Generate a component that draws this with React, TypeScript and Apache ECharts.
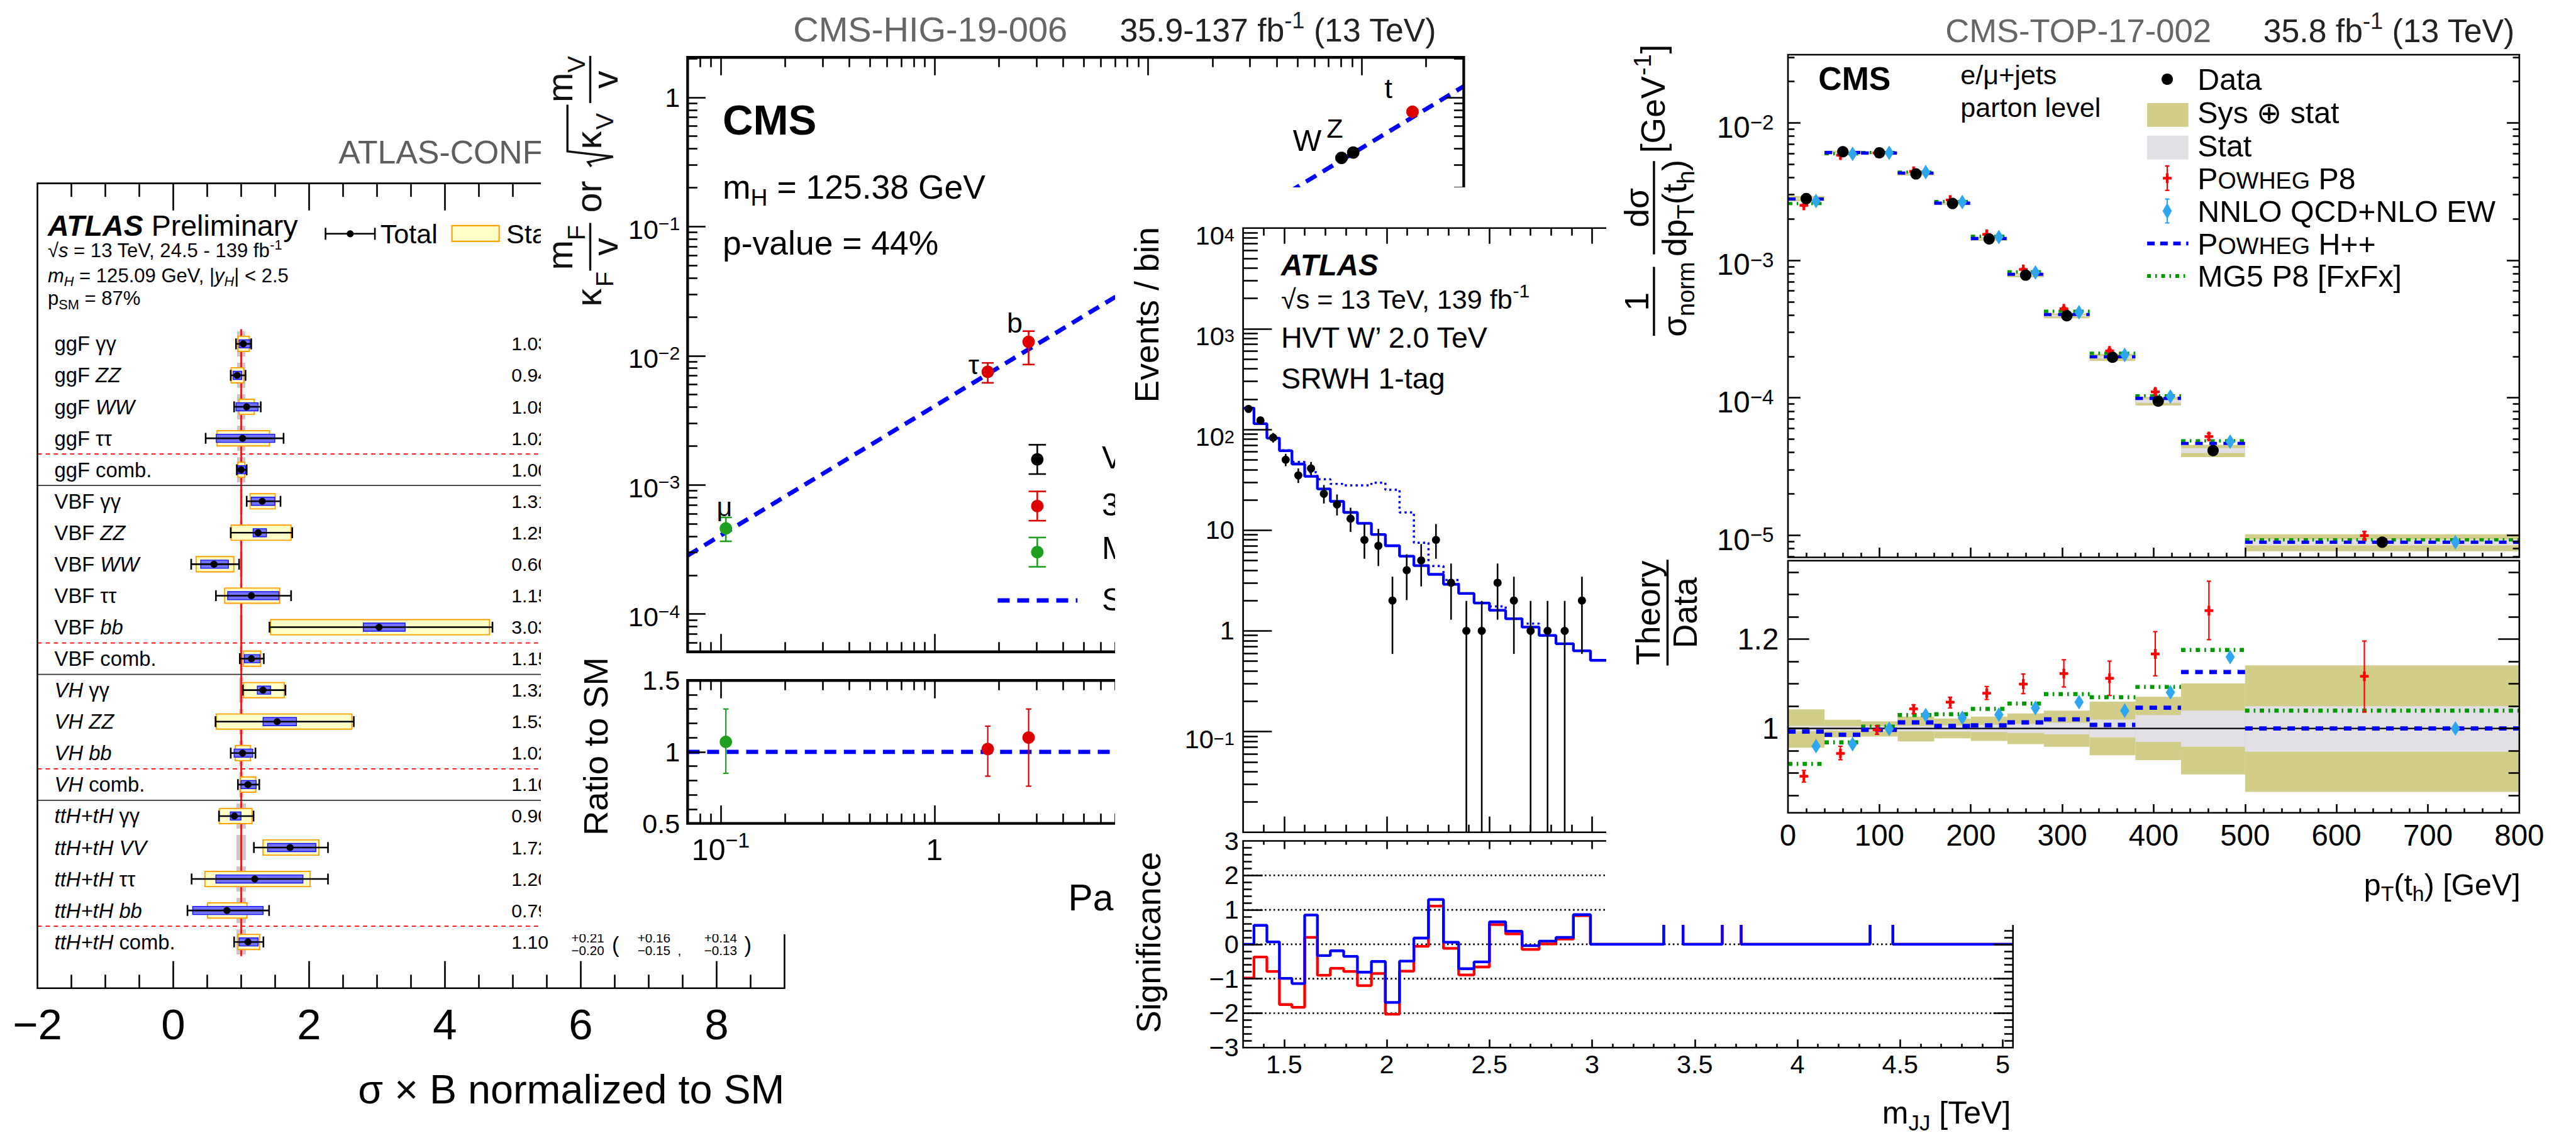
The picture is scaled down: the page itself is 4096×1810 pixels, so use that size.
import React, { useEffect, useRef } from 'react';
import * as echarts from 'echarts';

const S = 4096 / 4748;
const P = (v: number) => v * S;
const FONT = "'Liberation Sans', Arial, Helvetica, sans-serif";
const TW = 3;

// ================= DATA =================
// Panel A: ATLAS  sigma x B normalized to SM
const atlasRows = ['ggF γγ', 'ggF ZZ', 'ggF WW', 'ggF ττ', 'ggF comb.', 'VBF γγ', 'VBF ZZ', 'VBF WW', 'VBF ττ', 'VBF bb', 'VBF comb.', 'VH γγ', 'VH ZZ', 'VH bb', 'VH comb.', 'ttH+tH γγ', 'ttH+tH VV', 'ttH+tH ττ', 'ttH+tH bb', 'ttH+tH comb.'];
const atlasItalic = ['ZZ', 'WW', 'bb', 'VH', 'ttH+tH', 'VV'];
const atlasMu = [1.03, 0.94, 1.08, 1.02, 1.00, 1.31, 1.25, 0.60, 1.15, 3.03, 1.15, 1.32, 1.53, 1.02, 1.10, 0.90, 1.72, 1.20, 0.79, 1.10];
const atlasTotLo = [0.924, 0.846, 0.896, 0.477, 0.935, 1.081, 0.846, 0.264, 0.628, 1.417, 0.980, 1.025, 0.622, 0.846, 0.952, 0.673, 1.187, 0.270, 0.209, 0.896];
const atlasTotHi = [1.148, 1.064, 1.288, 1.624, 1.081, 1.579, 1.752, 0.969, 1.735, 4.700, 1.333, 1.652, 2.658, 1.210, 1.266, 1.182, 2.278, 2.278, 1.411, 1.327];
const atlasStatLo = [0.952, 0.852, 0.969, 0.645, 0.952, 1.131, 0.852, 0.337, 0.757, 1.433, 1.036, 1.036, 0.633, 0.913, 0.991, 0.678, 1.322, 0.466, 0.505, 0.952];
const atlasStatHi = [1.120, 1.036, 1.193, 1.417, 1.053, 1.501, 1.735, 0.891, 1.568, 4.656, 1.288, 1.635, 2.630, 1.137, 1.215, 1.159, 2.144, 2.015, 1.086, 1.271];
const atlasSystLo = [0.969, 0.880, 0.924, 0.633, 0.952, 1.148, 1.176, 0.404, 0.801, 2.798, 1.047, 1.238, 1.322, 0.896, 0.997, 0.840, 1.389, 0.628, 0.287, 0.969];
const atlasSystHi = [1.131, 1.008, 1.249, 1.495, 1.064, 1.495, 1.372, 0.812, 1.556, 3.414, 1.277, 1.433, 1.814, 1.170, 1.221, 0.997, 2.099, 1.909, 1.322, 1.249];
const atlasSmUnc = [0.06, 0.06, 0.06, 0.06, 0.06, 0.02, 0.02, 0.02, 0.02, 0.02, 0.02, 0.03, 0.03, 0.03, 0.03, 0.07, 0.07, 0.07, 0.07, 0.07];
const atlasSmLine = [-0.47, 19.45];
const atlasDashedSeps = [3.5, 9.5, 13.5, 18.5];
const atlasSolidSeps = [4.5, 10.5, 14.5];
const atlasXTicks = [-2, 0, 2, 4, 6, 8];
const atlasCombErrs = ['+0.21', '−0.20', '+0.16', '−0.15', '+0.14', '−0.13'];

// Panel B: CMS-HIG-19-006 couplings vs particle mass
const higParticles = ['μ', 'τ', 'b', 'W', 'Z', 't'];
const higGroup = ['muon', 'fermion3', 'fermion3', 'vector', 'vector', 'fermion3'];
const higMass = [0.1057, 1.777, 2.76, 80.38, 91.19, 172.76];
const higCoupling = [4.6e-4, 7.5e-3, 1.28e-2, 0.34, 0.374, 0.774];
const higCouplingLo = [3.66e-4, 6.17e-3, 8.55e-3, 0.33, 0.365, 0.755];
const higCouplingHi = [5.6e-4, 8.8e-3, 1.55e-2, 0.35, 0.383, 0.795];
const higRatio = [1.07, 1.02, 1.10, 1.02, 1.01, 1.10];
const higRatioLo = [0.85, 0.83, 0.76, 0.96, 0.96, 0.98];
const higRatioHi = [1.30, 1.18, 1.30, 1.09, 1.07, 1.22];
const higSMLine = [[0.07, 2.843e-4], [300, 1.218]];
const higSMRatio = [[0.07, 1], [300, 1]];
const higLegend = ['Vector bosons', '3rd generation fermions', 'Muons', 'SM Higgs boson'];

// Panel C: ATLAS HVT W' search, m_JJ
const mjjEdges = [1.300, 1.353, 1.416, 1.477, 1.538, 1.600, 1.662, 1.725, 1.790, 1.857, 1.925, 1.993, 2.062, 2.132, 2.203, 2.276, 2.350, 2.425, 2.500, 2.579, 2.659, 2.742, 2.824, 2.909, 2.992, 3.078, 3.166, 3.256, 3.349, 3.443, 3.538, 3.634, 3.726, 3.826, 3.926, 4.030, 4.135, 4.244, 4.354, 4.465, 4.580, 4.698, 4.818, 4.940, 5.050];
const mjjBkgHead = [163, 114, 82, 61.5, 45.4, 34.2, 25.7, 19.3, 15.0, 11.7, 9.06, 7.0, 5.52, 4.44, 3.64, 2.90, 2.35, 1.89, 1.60, 1.32, 1.09, 0.90, 0.745, 0.634];
const mjjSigBkgHead = [163, 114, 82, 62, 47.6, 37.6, 32, 28.8, 27.8, 27.8, 29.6, 25.2, 15, 7.5, 4.4, 3.2, 2.35, 1.89, 1.75, 1.32, 1.18, 0.90, 0.745, 0.634];
const mjjBkgTail = [0.51, 0.43, 0.36, 0.30, 0.25, 0.21, 0.18, 0.15, 0.13, 0.11, 0.09, 0.075, 0.063, 0.053, 0.045, 0.038, 0.032, 0.027, 0.023, 0.02];
const mjjData = [160, 123, 83, 50, 35, 41, 23, 18, 13, 8, 7, 2, 4, 5, 8, 3, 1, 1, 3, 2, 1, 1, 1, 2];
const mjjDataLo = [147.8, 112.4, 74.1, 43.2, 29.4, 35.0, 18.4, 14.0, 9.6, 5.2, 4.4, 0.59, 2.02, 2.76, 5.2, 1.29, 0.01, 0.01, 1.29, 0.59, 0.01, 0.01, 0.01, 0.59];
const mjjDataHi = [172.7, 134.0, 92.3, 57.3, 41.0, 47.6, 28.1, 22.6, 16.7, 11.5, 10.3, 3.45, 5.75, 7.27, 11.5, 4.66, 1.98, 1.98, 4.66, 3.45, 1.98, 1.98, 1.98, 3.45];
const mjjSigBlue = [0, 0.55, 0.07, -0.99, -1.14, 0.85, -0.33, -0.19, -0.35, -0.81, -0.50, -1.69, -0.49, 0.18, 1.30, 0.06, -0.71, -0.51, 0.65, 0.38, -0.04, 0.09, 0.20, 0.86, 0, 0, 0, 0, 99, 0, 0, 99, 0, 0, 0, 0, 0, 0, 99, 0, 0, 0, 0, 0];
const mjjSigRed = [-0.98, -0.37, -0.79, -1.75, -1.83, 0.20, -0.90, -0.70, -0.79, -1.20, -0.85, -2.03, -0.78, -0.06, 1.11, -0.12, -0.89, -0.66, 0.57, 0.30, -0.15, 0.01, 0.15, 0.83, 0, 0, 0, 0, 99, 0, 0, 99, 0, 0, 0, 0, 0, 0, 99, 0, 0, 0, 0, 0];
const mjjSigRefLines = [-2, -1, 0, 1, 2];
const mjjXLabels = [1.5, 2, 2.5, 3, 3.5, 4, 4.5, 5];
const sigYLabels = [-3, -2, -1, 0, 1, 2, 3];

// Panel D: CMS-TOP-17-002 pT(t_h)
const ptEdges = [0, 40, 80, 120, 160, 200, 240, 280, 330, 380, 430, 500, 800];
const cmsData = [2.81e-3, 6.16e-3, 6.05e-3, 4.25e-3, 2.59e-3, 1.43e-3, 7.8e-4, 3.95e-4, 1.97e-4, 9.45e-5, 4.13e-5, 8.9e-6];
const cmsPowheg = [0.893, 0.944, 0.997, 1.044, 1.059, 1.079, 1.0995, 1.123, 1.1125, 1.167, 1.264, 1.117];
const cmsPowhegLo = [0.880, 0.930, 0.987, 1.033, 1.046, 1.065, 1.078, 1.093, 1.074, 1.118, 1.199, 1.037];
const cmsPowhegHi = [0.906, 0.960, 1.006, 1.053, 1.070, 1.094, 1.122, 1.154, 1.151, 1.217, 1.330, 1.196];
const cmsNnlo = [0.9605, 0.965, 0.999, 1.030, 1.024, 1.031, 1.046, 1.059, 1.040, 1.081, 1.160, 1.000];
const cmsHerwig = [0.993, 0.986, 0.997, 1.0135, 1.0056, 1.007, 1.0135, 1.0205, 1.008, 1.0465, 1.1265, 1.000];
const cmsMg5 = [0.9205, 0.969, 1.004, 1.030, 1.032, 1.044, 1.056, 1.077, 1.070, 1.093, 1.176, 1.040];
const cmsSysLo = [0.957, 0.980, 0.982, 0.971, 0.978, 0.972, 0.965, 0.959, 0.940, 0.929, 0.897, 0.858];
const cmsSysHi = [1.043, 1.0196, 1.016, 1.0265, 1.022, 1.0265, 1.0335, 1.040, 1.060, 1.071, 1.101, 1.1415];
const cmsStatLo = [0.994, 0.995, 0.995, 0.994, 0.993, 0.992, 0.990, 0.987, 0.980, 0.970, 0.959, 0.948];
const cmsStatHi = [1.006, 1.005, 1.005, 1.006, 1.007, 1.008, 1.010, 1.013, 1.020, 1.030, 1.040, 1.050];
const cmsXLabels = [0, 100, 200, 300, 400, 500, 600, 700, 800];
const cmsRatioLabels = [1, 1.2];
const cmsRatioMinor = [0.85, 0.9, 0.95, 1.05, 1.1, 1.15, 1.25, 1.3, 1.35];
const cmsLegend = ['Data', 'Sys ⊕ stat', 'Stat', '{n|P}{sc|OWHEG} P8', 'NNLO QCD+NLO EW', '{n|P}{sc|OWHEG} H++', 'MG5 P8 [FxFx]'];

// ================= HELPERS =================
const OLIVE = '#d2cd88';
const STATG = '#e2dfe5';
const CRED = '#dd0000';
const CGREEN = '#1f9f1f';
const BLUE = '#0000ff';

function mkRich(F: number, color = '#000', dy = 0) {
  const b = { fontFamily: FONT, color, fill: color };
  const L = P(1.31 * F);
  return {
    n: { ...b, fontSize: P(F), lineHeight: L },
    i: { ...b, fontSize: P(F), lineHeight: L, fontStyle: 'italic' },
    b: { ...b, fontSize: P(F), lineHeight: L, fontWeight: 'bold' },
    bi: { ...b, fontSize: P(F), lineHeight: L, fontWeight: 'bold', fontStyle: 'italic' },
    sub: { ...b, fontSize: P(0.7 * F), lineHeight: P(0.7 * F), verticalAlign: 'bottom' },
    isub: { ...b, fontSize: P(0.7 * F), lineHeight: P(0.7 * F), verticalAlign: 'bottom', fontStyle: 'italic' },
    sup: { ...b, fontSize: P(0.7 * F), lineHeight: P(0.7 * F), verticalAlign: 'top' },
    sc: { ...b, fontSize: P(0.78 * F), lineHeight: P(0.78 * F), padding: [P(0.15 * F), 0, 0, 0] },
    Lm: { ...b, fontSize: P(F), lineHeight: L, padding: [P(2 * dy), 0, 0, 0] },
    Ls: { ...b, fontSize: P(0.7 * F), lineHeight: P(0.7 * F), verticalAlign: 'top', padding: [P(2 * dy), 0, 0, 0] },
  };
}

function gridBox(x1: number, y1: number, x2: number, y2: number, ox: number, oy: number, bw: number) {
  return {
    left: P(x1 - ox), top: P(y1 - oy), width: P(x2 - x1), height: P(y2 - y1),
    show: true, borderColor: '#000', borderWidth: P(bw), backgroundColor: 'transparent',
    containLabel: false, outerBoundsMode: 'none', z: 10,
  };
}

function mkAxis(type: string, gridIndex: number, min: number, max: number, position: string, ticks: number[], len: number, tw: number, label?: any) {
  const a: any = {
    type, gridIndex, min, max, position,
    axisLine: { show: false, onZero: false },
    axisTick: { show: ticks.length > 0, inside: true, length: P(len), customValues: ticks, lineStyle: { color: '#000', width: P(tw) } },
    splitLine: { show: false },
    minorTick: { show: false },
    minorSplitLine: { show: false },
    axisLabel: { show: false },
    silent: true,
    z: 11,
  };
  if (type === 'log') a.logBase = 10;
  if (label) {
    a.axisLabel = {
      show: true, customValues: label.values, formatter: label.formatter, margin: P(label.margin),
      fontFamily: FONT, fontSize: P(label.F), lineHeight: P(1.31 * label.F), color: '#000',
      rich: mkRich(label.F, '#000', label.dy || 0), hideOverlap: false,
    };
  }
  return a;
}

const logLabel = (useDy: boolean) => (v: number) => {
  const e = Math.round(Math.log10(v));
  if (e === 0) return '1';
  if (e === 1) return '10';
  const ex = (e < 0 ? '−' : '') + Math.abs(e);
  return useDy ? `{Lm|10}{Ls|${ex}}` : `10{sup|${ex}}`;
};

function logMajors(lo: number, hi: number) {
  const out: number[] = [];
  for (let e = -7; e <= 4; e++) { const v = Math.pow(10, e); if (v > lo * 1.0001 && v < hi * 0.9999) out.push(v); }
  return out;
}
function logMinors(lo: number, hi: number) {
  const out: number[] = [];
  for (let e = -7; e <= 4; e++) for (let m = 2; m <= 9; m++) { const v = m * Math.pow(10, e); if (v > lo * 1.0001 && v < hi * 0.9999) out.push(v); }
  return out;
}
function linTicks(lo: number, hi: number, step: number, exclude: number[] = []) {
  const out: number[] = [];
  const n = Math.round((hi - lo) / step);
  for (let k = 0; k <= n; k++) {
    const v = Math.round((lo + k * step) * 1000) / 1000;
    if (!exclude.some((e) => Math.abs(e - v) < 1e-6)) out.push(v);
  }
  return out;
}

function gText(ox: number, oy: number, x: number, base: number, text: string, F: number, o: any = {}) {
  const color = o.color || '#000';
  return {
    type: 'text', x: P(x - ox), y: P(base - 0.35 * F - oy), z: 50, silent: true,
    style: {
      text, fill: color, fontFamily: FONT, fontSize: P(F),
      fontWeight: o.bold ? 'bold' : 'normal', fontStyle: o.italic ? 'italic' : 'normal',
      align: o.align || 'left', verticalAlign: 'middle', lineHeight: P(1.31 * F), rich: mkRich(F, color),
    },
  };
}
function gRot(ox: number, oy: number, cx: number, cy: number, text: string, F: number) {
  return {
    type: 'text', x: P(cx - ox), y: P(cy - oy), rotation: Math.PI / 2, z: 50, silent: true,
    style: { text, fill: '#000', fontFamily: FONT, fontSize: P(F), align: 'center', verticalAlign: 'middle' },
  };
}
function gLine(ox: number, oy: number, x1: number, y1: number, x2: number, y2: number, stroke: string, w: number, dash?: number[]) {
  return {
    type: 'line', z: 50, silent: true,
    shape: { x1: P(x1 - ox), y1: P(y1 - oy), x2: P(x2 - ox), y2: P(y2 - oy) },
    style: { stroke, lineWidth: P(w), lineDash: dash ? dash.map(P) : null },
  };
}
function gRect(ox: number, oy: number, x1: number, y1: number, x2: number, y2: number, style: any) {
  return { type: 'rect', z: 50, silent: true, shape: { x: P(x1 - ox), y: P(y1 - oy), width: P(x2 - x1), height: P(y2 - y1) }, style };
}
function gCircle(ox: number, oy: number, cx: number, cy: number, r: number, fill: string) {
  return { type: 'circle', z: 51, silent: true, shape: { cx: P(cx - ox), cy: P(cy - oy), r: P(r) }, style: { fill } };
}

// elements for custom series (pixel coords)
const rectEl = (x1: number, y1: number, x2: number, y2: number, style: any) => ({
  type: 'rect', shape: { x: Math.min(x1, x2), y: Math.min(y1, y2), width: Math.abs(x2 - x1), height: Math.abs(y2 - y1) }, style,
});
const lineEl = (x1: number, y1: number, x2: number, y2: number, style: any) => ({ type: 'line', shape: { x1, y1, x2, y2 }, style });
const circleEl = (cx: number, cy: number, r: number, fill: string) => ({ type: 'circle', shape: { cx, cy, r }, style: { fill } });
const diamondEl = (x: number, y: number, w: number, h: number, fill: string) => ({
  type: 'polygon', shape: { points: [[x, y - h / 2], [x + w / 2, y], [x, y + h / 2], [x - w / 2, y]] }, style: { fill },
});

// ================= PANEL A =================
function styleRow(s: string) {
  return s.split(' ').map((t) => (atlasItalic.includes(t) ? `{i|${t}}` : `{n|${t}}`)).join(' ');
}

function buildAtlasLeft() {
  const ox = 0, oy = 0;
  const xMin = -2, xMax = 9;
  const majors = atlasXTicks.filter((v) => v > xMin && v < xMax);
  const minors = linTicks(-1.5, 8.5, 0.5, atlasXTicks);
  const fmt = (v: number) => (v < 0 ? '−' + Math.abs(v) : String(v));
  const xAxis = [
    mkAxis('value', 0, xMin, xMax, 'bottom', majors, 50, TW, { values: atlasXTicks, F: 80, margin: 15, formatter: fmt }),
    mkAxis('value', 0, xMin, xMax, 'bottom', minors, 25, TW),
    mkAxis('value', 0, xMin, xMax, 'top', majors, 50, TW),
    mkAxis('value', 0, xMin, xMax, 'top', minors, 25, TW),
  ];
  const yAxis = [{ type: 'value', gridIndex: 0, min: -5.1, max: 20.47, inverse: true, show: false, axisLine: { onZero: false } }];
  const rowData = atlasMu.map((m, i) => [m, i]);
  const series: any[] = [
    {
      type: 'custom', xAxisIndex: 0, yAxisIndex: 0, z: 1, silent: true, data: rowData,
      renderItem: (p: any, api: any) => {
        const i = p.dataIndex;
        const w = atlasSmUnc[i];
        const a = api.coord([1 - w, i - 0.4]);
        const b = api.coord([1 + w, i + 0.4]);
        return rectEl(a[0], a[1], b[0], b[1], { fill: '#c8c8c8' });
      },
    },
    {
      type: 'line', xAxisIndex: 0, yAxisIndex: 0, z: 2, silent: true, symbol: 'none',
      data: atlasSmLine.map((y) => [1, y]), lineStyle: { color: '#ff0000', width: P(3) },
    },
    ...atlasDashedSeps.map((s) => ({
      type: 'line', xAxisIndex: 0, yAxisIndex: 0, z: 2, silent: true, symbol: 'none',
      data: [[xMin, s], [xMax, s]], lineStyle: { color: '#ff0000', width: P(2), type: [P(8), P(7)] },
    })),
    ...atlasSolidSeps.map((s) => ({
      type: 'line', xAxisIndex: 0, yAxisIndex: 0, z: 2, silent: true, symbol: 'none',
      data: [[xMin, s], [xMax, s]], lineStyle: { color: '#333', width: P(2) },
    })),
    {
      type: 'custom', xAxisIndex: 0, yAxisIndex: 0, z: 4, silent: true, data: rowData,
      renderItem: (p: any, api: any) => {
        const i = p.dataIndex;
        const X = (v: number) => api.coord([v, i])[0];
        const y = api.coord([atlasMu[i], i])[1];
        const ch: any[] = [];
        ch.push(rectEl(X(atlasStatLo[i]), y - P(14), X(atlasStatHi[i]), y + P(14), { fill: '#ffffc8', stroke: '#ffa000', lineWidth: P(2.2) }));
        ch.push(rectEl(X(atlasSystLo[i]), y - P(7.5), X(atlasSystHi[i]), y + P(7.5), { fill: '#7272ff', stroke: '#1010ff', lineWidth: P(1.6) }));
        ch.push(lineEl(X(atlasTotLo[i]), y, X(atlasTotHi[i]), y, { stroke: '#000', lineWidth: P(3) }));
        [atlasTotLo[i], atlasTotHi[i]].forEach((v) => ch.push(lineEl(X(v), y - P(10), X(v), y + P(10), { stroke: '#000', lineWidth: P(3) })));
        ch.push(circleEl(X(atlasMu[i]), y, P(6.5), '#000'));
        return { type: 'group', children: ch };
      },
    },
    {
      type: 'custom', xAxisIndex: 0, yAxisIndex: 0, z: 5, silent: true, data: rowData,
      renderItem: (p: any, api: any) => {
        const i = p.dataIndex;
        const [xl, y] = api.coord([-1.75, i]);
        const xv = api.coord([4.98, i])[0];
        return {
          type: 'group', children: [
            { type: 'text', x: xl, y, style: { text: styleRow(atlasRows[i]), fontFamily: FONT, fontSize: P(38), fill: '#000', align: 'left', verticalAlign: 'middle', lineHeight: P(1.31 * 38), rich: mkRich(38) } },
            { type: 'text', x: xv, y, style: { text: atlasMu[i].toFixed(2), fontFamily: FONT, fontSize: P(35), fill: '#000', align: 'left', verticalAlign: 'middle' } },
          ],
        };
      },
    },
  ];
  const F2 = 24;
  const graphic: any[] = [
    gText(ox, oy, 624, 302, 'ATLAS-CONF-2020-027', 60, { color: '#5e5e5e' }),
    gText(ox, oy, 88, 435, '{bi|ATLAS} {n|Preliminary}', 54),
    gText(ox, oy, 88, 475, '√{i|s} = 13 TeV, 24.5 - 139 fb{sup|-1}', 36),
    gText(ox, oy, 88, 521, '{i|m}{isub|H} = 125.09 GeV, |{i|y}{isub|H}| < 2.5', 36),
    gText(ox, oy, 88, 563, 'p{sub|SM} = 87%', 36),
    gLine(ox, oy, 600, 431, 691, 431, '#000', 3),
    gLine(ox, oy, 600, 420, 600, 442, '#000', 3),
    gLine(ox, oy, 691, 420, 691, 442, '#000', 3),
    gCircle(ox, oy, 645.5, 431, 6.5, '#000'),
    gText(ox, oy, 701, 449, 'Total', 50),
    gRect(ox, oy, 833, 416, 920, 445, { fill: '#ffffc8', stroke: '#ffa000', lineWidth: P(2.5) }),
    gText(ox, oy, 933, 449, 'Stat.', 50),
    gText(ox, oy, 1053, 1737, atlasCombErrs[0], F2),
    gText(ox, oy, 1053, 1760, atlasCombErrs[1], F2),
    gText(ox, oy, 1128, 1756, '(', 40),
    gText(ox, oy, 1175, 1737, atlasCombErrs[2], F2),
    gText(ox, oy, 1175, 1760, atlasCombErrs[3], F2),
    gText(ox, oy, 1249, 1760, ',', F2),
    gText(ox, oy, 1298, 1737, atlasCombErrs[4], F2),
    gText(ox, oy, 1298, 1760, atlasCombErrs[5], F2),
    gText(ox, oy, 1372, 1756, ')', 40),
    gText(ox, oy, 1446, 2035, 'σ × B normalized to SM', 75, { align: 'right' }),
  ];
  return {
    animation: false, backgroundColor: '#fff',
    grid: [gridBox(69, 338, 1446, 1822, ox, oy, 3)],
    xAxis, yAxis, series, graphic,
  };
}

// ================= PANEL B =================
const higColorOf = (g: string) => (g === 'muon' ? CGREEN : g === 'vector' ? '#000' : CRED);

function errMarkerEls(x: number, y: number, y1: number, y2: number, color: string, cap: number, r: number) {
  return [
    lineEl(x, y1, x, y2, { stroke: color, lineWidth: P(3) }),
    lineEl(x - cap, y1, x + cap, y1, { stroke: color, lineWidth: P(3) }),
    lineEl(x - cap, y2, x + cap, y2, { stroke: color, lineWidth: P(3) }),
    circleEl(x, y, r, color),
  ];
}

function higYTitle(ox: number, oy: number) {
  const F = 66, f = 46, col = '#111';
  const t = (lx: number, base: number, s: string, size: number, align = 'left') => ({
    type: 'text', x: P(lx), y: P(base - 0.35 * size),
    style: { text: s, fontFamily: FONT, fontSize: P(size), fill: col, align, verticalAlign: 'middle' },
  });
  const l = (x1: number, y1: number, x2: number, y2: number) => ({
    type: 'line', shape: { x1: P(x1), y1: P(y1), x2: P(x2), y2: P(y2) }, style: { stroke: col, lineWidth: P(4) },
  });
  return {
    type: 'group', x: P(1108 - ox), y: P(565 - oy), rotation: Math.PI / 2, z: 50, silent: true,
    children: [
      t(0, 0, 'κ', F), t(36, 22, 'F', f),
      t(67, -53, 'm', F), t(122, -30, 'F', f), l(66, -20, 154, -20), t(110, 30, 'v', F, 'center'),
      t(173, 0, 'or', F),
      { type: 'polyline', shape: { points: [[258, -18], [266, -24], [276, 22], [286, -62], [372, -62]].map(([a, b]) => [P(a), P(b)]) }, style: { stroke: col, lineWidth: P(4), fill: 'none' } },
      t(290, 0, 'κ', F), t(326, 22, 'V', f),
      t(376, -53, 'm', F), t(431, -30, 'V', f), l(375, -20, 462, -20), t(418, 30, 'v', F, 'center'),
    ],
  };
}

function buildCmsHig() {
  const ox = 997, oy = 0;
  const xMin = 0.07, xMax = 300, yMin = 5.1e-5, yMax = 2.04;
  const xMaj = logMajors(xMin, xMax), xMin_ = logMinors(xMin, xMax);
  const yMaj = logMajors(yMin, yMax), yMin_ = logMinors(yMin, yMax);
  const rMaj = [1], rMin = linTicks(0.6, 1.4, 0.1, [1]);
  const xLbl = { values: [0.1, 1, 10, 100], F: 56, margin: 11.5, formatter: logLabel(false) };
  const yLbl = { values: [1e-4, 1e-3, 1e-2, 1e-1, 1], F: 50, margin: 14, formatter: logLabel(true), dy: 5 };
  const rLbl = { values: [0.5, 1, 1.5], F: 50, margin: 14, formatter: (v: number) => (v === 1 ? '1' : v.toFixed(1)) };
  const xAxis = [
    mkAxis('log', 0, xMin, xMax, 'bottom', xMaj, 33, TW),
    mkAxis('log', 0, xMin, xMax, 'bottom', xMin_, 18, TW),
    mkAxis('log', 0, xMin, xMax, 'top', xMaj, 33, TW),
    mkAxis('log', 0, xMin, xMax, 'top', xMin_, 18, TW),
    mkAxis('log', 1, xMin, xMax, 'bottom', xMaj, 33, TW, xLbl),
    mkAxis('log', 1, xMin, xMax, 'bottom', xMin_, 18, TW),
    mkAxis('log', 1, xMin, xMax, 'top', xMaj, 33, TW),
    mkAxis('log', 1, xMin, xMax, 'top', xMin_, 18, TW),
  ];
  const yAxis = [
    mkAxis('log', 0, yMin, yMax, 'left', yMaj, 33, TW, yLbl),
    mkAxis('log', 0, yMin, yMax, 'left', yMin_, 18, TW),
    mkAxis('log', 0, yMin, yMax, 'right', yMaj, 33, TW),
    mkAxis('log', 0, yMin, yMax, 'right', yMin_, 18, TW),
    mkAxis('value', 1, 0.5, 1.5, 'left', rMaj, 33, TW, rLbl),
    mkAxis('value', 1, 0.5, 1.5, 'left', rMin, 18, TW),
    mkAxis('value', 1, 0.5, 1.5, 'right', rMaj, 33, TW),
    mkAxis('value', 1, 0.5, 1.5, 'right', rMin, 18, TW),
  ];
  const dash = [P(22), P(14)];
  const series: any[] = [
    { type: 'line', xAxisIndex: 0, yAxisIndex: 0, z: 2, silent: true, symbol: 'none', data: higSMLine, lineStyle: { color: BLUE, width: P(8), type: dash } },
    {
      type: 'custom', xAxisIndex: 0, yAxisIndex: 0, z: 4, silent: true, data: higMass.map((m, k) => [m, higCoupling[k]]),
      renderItem: (p: any, api: any) => {
        const k = p.dataIndex;
        const [x, y] = api.coord([higMass[k], higCoupling[k]]);
        const y1 = api.coord([higMass[k], higCouplingLo[k]])[1];
        const y2 = api.coord([higMass[k], higCouplingHi[k]])[1];
        return { type: 'group', children: errMarkerEls(x, y, y1, y2, higColorOf(higGroup[k]), P(11), P(11.5)) };
      },
    },
    { type: 'line', xAxisIndex: 4, yAxisIndex: 4, z: 2, silent: true, symbol: 'none', data: higSMRatio, lineStyle: { color: BLUE, width: P(8), type: dash } },
    {
      type: 'custom', xAxisIndex: 4, yAxisIndex: 4, z: 4, silent: true, data: higMass.map((m, k) => [m, higRatio[k]]),
      renderItem: (p: any, api: any) => {
        const k = p.dataIndex;
        const [x, y] = api.coord([higMass[k], higRatio[k]]);
        const y1 = api.coord([higMass[k], higRatioLo[k]])[1];
        const y2 = api.coord([higMass[k], higRatioHi[k]])[1];
        const c = higColorOf(higGroup[k]);
        return {
          type: 'group', children: [
            lineEl(x, y1, x, y2, { stroke: c, lineWidth: P(2.5) }),
            lineEl(x - P(5), y1, x + P(5), y1, { stroke: c, lineWidth: P(2.5) }),
            lineEl(x - P(5), y2, x + P(5), y2, { stroke: c, lineWidth: P(2.5) }),
            circleEl(x, y, P(11.5), c),
          ],
        };
      },
    },
  ];
  const legendMarker = (cy: number, color: string) => [
    gLine(ox, oy, 1912, cy - 27, 1912, cy + 27, color, 3),
    gLine(ox, oy, 1896, cy - 27, 1928, cy - 27, color, 3),
    gLine(ox, oy, 1896, cy + 27, 1928, cy + 27, color, 3),
    gCircle(ox, oy, 1912, cy, 11.5, color),
  ];
  const labelPos = [[1321, 952, 50], [1785, 690, 50], [1856, 613, 52], [2383, 278, 56], [2445, 254, 50], [2552, 181, 52]];
  const graphic: any[] = [
    gText(ox, oy, 1462, 77, 'CMS-HIG-19-006', 65, { color: '#666' }),
    gText(ox, oy, 2064, 77, '35.9-137 fb{sup|-1} (13 TeV)', 60, { color: '#222' }),
    gText(ox, oy, 1332, 248, 'CMS', 78, { bold: true }),
    gText(ox, oy, 1332, 366, 'm{sub|H} = 125.38 GeV', 62),
    gText(ox, oy, 1332, 470, 'p-value = 44%', 62),
    ...higParticles.map((s, k) => gText(ox, oy, labelPos[k][0], labelPos[k][1], s, labelPos[k][2])),
    ...legendMarker(847, '#000'),
    ...legendMarker(933, CRED),
    ...legendMarker(1018, CGREEN),
    gLine(ox, oy, 1839, 1107, 1986, 1107, BLUE, 8, [22, 14]),
    gText(ox, oy, 2031, 864, higLegend[0], 58),
    gText(ox, oy, 2031, 951, higLegend[1], 58),
    gText(ox, oy, 2031, 1031, higLegend[2], 58),
    gText(ox, oy, 2031, 1126, higLegend[3], 58),
    higYTitle(ox, oy),
    gRot(ox, oy, 1098, 1376, 'Ratio to SM', 63),
    gText(ox, oy, 1969, 1679, 'Particle mass [GeV]', 68),
  ];
  return {
    animation: false, backgroundColor: '#fff',
    grid: [gridBox(1267.5, 105.8, 2698, 1201.8, ox, oy, 5), gridBox(1267.5, 1254.5, 2698, 1518, ox, oy, 5)],
    xAxis, yAxis, series, graphic,
  };
}

// ================= PANEL C =================
function stepData(vals: number[]) {
  const d = vals.map((v, k) => [mjjEdges[k], v]);
  d.push([mjjEdges[vals.length], vals[vals.length - 1]]);
  return d;
}

function buildAtlasMid() {
  const ox = 2055, oy = 345;
  const xMin = 1.3, xMax = 5.05, yMin = 0.01, yMax = 1e4;
  const xMaj = linTicks(1.5, 5, 0.5);
  const xMin_ = linTicks(1.4, 5.0, 0.1, xMaj);
  const yMaj = logMajors(yMin, yMax), yMin_ = logMinors(yMin, yMax);
  const sMaj = linTicks(-2, 2, 1), sMin = linTicks(-2.8, 2.8, 0.2, linTicks(-3, 3, 1));
  const xLbl = { values: mjjXLabels, F: 48, margin: 0, formatter: (v: number) => String(v) };
  const yLbl = { values: [0.1, 1, 10, 100, 1000, 10000], F: 48, margin: 16, formatter: logLabel(true), dy: 14 };
  const sLbl = { values: sigYLabels, F: 48, margin: 8, formatter: (v: number) => (v < 0 ? '−' + Math.abs(v) : String(v)) };
  const xAxis = [
    mkAxis('value', 0, xMin, xMax, 'bottom', xMaj, 29, TW),
    mkAxis('value', 0, xMin, xMax, 'bottom', xMin_, 14, TW),
    mkAxis('value', 0, xMin, xMax, 'top', xMaj, 29, TW),
    mkAxis('value', 0, xMin, xMax, 'top', xMin_, 14, TW),
    mkAxis('value', 1, xMin, xMax, 'bottom', xMaj, 15, TW, xLbl),
    mkAxis('value', 1, xMin, xMax, 'bottom', xMin_, 7, TW),
    mkAxis('value', 1, xMin, xMax, 'top', xMaj, 15, TW),
    mkAxis('value', 1, xMin, xMax, 'top', xMin_, 7, TW),
  ];
  const yAxis = [
    mkAxis('log', 0, yMin, yMax, 'left', yMaj, 53, TW, yLbl),
    mkAxis('log', 0, yMin, yMax, 'left', yMin_, 27, TW),
    mkAxis('log', 0, yMin, yMax, 'right', yMaj, 53, TW),
    mkAxis('log', 0, yMin, yMax, 'right', yMin_, 27, TW),
    mkAxis('value', 1, -3, 3, 'left', sMaj, 36, TW, sLbl),
    mkAxis('value', 1, -3, 3, 'left', sMin, 16, TW),
    mkAxis('value', 1, -3, 3, 'right', sMaj, 36, TW),
    mkAxis('value', 1, -3, 3, 'right', sMin, 16, TW),
  ];
  const bkg = [...mjjBkgHead, ...mjjBkgTail];
  const sigBkg = [...mjjSigBkgHead, ...mjjBkgTail];
  const series: any[] = [
    { type: 'line', xAxisIndex: 0, yAxisIndex: 0, z: 2, silent: true, symbol: 'none', step: 'end', data: stepData(sigBkg), lineStyle: { color: BLUE, width: P(4), type: [P(4), P(6)] } },
    { type: 'line', xAxisIndex: 0, yAxisIndex: 0, z: 3, silent: true, symbol: 'none', step: 'end', data: stepData(bkg), lineStyle: { color: BLUE, width: P(5) } },
    {
      type: 'custom', xAxisIndex: 0, yAxisIndex: 0, z: 4, silent: true,
      data: mjjData.map((n, k) => [(mjjEdges[k] + mjjEdges[k + 1]) / 2, n]),
      renderItem: (p: any, api: any) => {
        const k = p.dataIndex;
        const xc = (mjjEdges[k] + mjjEdges[k + 1]) / 2;
        const [x, y] = api.coord([xc, mjjData[k]]);
        const y1 = api.coord([xc, Math.max(mjjDataLo[k], yMin)])[1];
        const y2 = api.coord([xc, mjjDataHi[k]])[1];
        return { type: 'group', children: [lineEl(x, y1, x, y2, { stroke: '#000', lineWidth: P(3) }), circleEl(x, y, P(7.5), '#000')] };
      },
    },
    ...mjjSigRefLines.map((v) => ({
      type: 'line', xAxisIndex: 4, yAxisIndex: 4, z: 2, silent: true, symbol: 'none',
      data: [[xMin, v], [xMax, v]], lineStyle: { color: '#000', width: P(3), type: [P(3), P(5)] },
    })),
    { type: 'line', xAxisIndex: 4, yAxisIndex: 4, z: 3, silent: true, symbol: 'none', step: 'end', data: stepData(mjjSigRed), lineStyle: { color: '#ff0000', width: P(5) } },
    { type: 'line', xAxisIndex: 4, yAxisIndex: 4, z: 4, silent: true, symbol: 'none', step: 'end', data: stepData(mjjSigBlue), lineStyle: { color: BLUE, width: P(5) } },
  ];
  const graphic: any[] = [
    gText(ox, oy, 2361, 507, 'ATLAS', 55, { bold: true, italic: true }),
    gText(ox, oy, 2361, 569, '√s = 13 TeV, 139 fb{sup|-1}', 50),
    gText(ox, oy, 2361, 641, 'HVT W’ 2.0 TeV', 54),
    gText(ox, oy, 2361, 716, 'SRWH 1-tag', 54),
    gRot(ox, oy, 2113, 580, 'Events / bin', 62),
    gRot(ox, oy, 2117, 1737, 'Significance', 62),
    gText(ox, oy, 3706, 2072, 'm{sub|JJ} [TeV]', 58, { align: 'right' }),
  ];
  return {
    animation: false, backgroundColor: '#fff',
    grid: [gridBox(2291, 420, 3710, 1534, ox, oy, 3), gridBox(2291, 1550, 3710, 1931, ox, oy, 3)],
    xAxis, yAxis, series, graphic,
  };
}

// ================= PANEL D =================
function redPlusEls(x: number, y: number, y1: number, y2: number) {
  const st = { stroke: '#ff0000', lineWidth: P(2.5) };
  const th = { stroke: '#ff0000', lineWidth: P(5) };
  return [
    lineEl(x, y1, x, y2, st), lineEl(x - P(4), y1, x + P(4), y1, st), lineEl(x - P(4), y2, x + P(4), y2, st),
    lineEl(x - P(8), y, x + P(8), y, th), lineEl(x, y - P(9), x, y + P(9), th),
  ];
}

function cmsYTitle(ox: number, oy: number) {
  const F = 62, f = 44, col = '#000';
  const t = (lx: number, base: number, s: string, size: number, align = 'left') => ({
    type: 'text', x: P(lx), y: P(base - 0.35 * size),
    style: { text: s, fontFamily: FONT, fontSize: P(size), fill: col, align, verticalAlign: 'middle' },
  });
  const l = (x1: number, x2: number) => ({ type: 'line', shape: { x1: P(x1), y1: P(-20), x2: P(x2), y2: P(-20) }, style: { stroke: col, lineWidth: P(4) } });
  return {
    type: 'group', x: P(3068 - ox), y: P(619 - oy), rotation: Math.PI / 2, z: 50, silent: true,
    children: [
      t(63, -30, '1', F, 'center'), l(0, 127), t(-2, 40, 'σ', F), t(36, 55, 'norm', f),
      t(236, -30, 'dσ', F, 'center'), l(150, 322),
      t(146, 40, 'dp', F), t(215, 55, 'T', f), t(242, 40, '(', F), t(263, 40, 't', F), t(280, 55, 'h', f), t(304, 40, ')', F),
      t(337, 0, '[GeV', F), t(480, -25, '-1', f), t(520, 0, ']', F),
    ],
  };
}

function buildCmsTop() {
  const ox = 2960, oy = 0;
  const xMin = 0, xMax = 800, yMin = 6.9e-6, yMax = 3.13e-2, rMin = 0.811, rMax = 1.376;
  const xMaj = linTicks(100, 700, 100), xMin_ = linTicks(20, 780, 20, linTicks(0, 800, 100));
  const yMaj = logMajors(yMin, yMax), yMin_ = logMinors(yMin, yMax);
  const xLbl = { values: cmsXLabels, F: 55, margin: 5.7, formatter: (v: number) => String(v) };
  const yLbl = { values: [1e-5, 1e-4, 1e-3, 1e-2], F: 55, margin: 26, formatter: logLabel(true), dy: 8 };
  const rLbl = { values: cmsRatioLabels, F: 55, margin: 17, formatter: (v: number) => (v === 1 ? '1' : v.toFixed(1)) };
  const xAxis = [
    mkAxis('value', 0, xMin, xMax, 'bottom', xMaj, 18, TW),
    mkAxis('value', 0, xMin, xMax, 'bottom', xMin_, 8.5, TW),
    mkAxis('value', 1, xMin, xMax, 'bottom', xMaj, 16, TW, xLbl),
    mkAxis('value', 1, xMin, xMax, 'bottom', xMin_, 8.3, TW),
  ];
  const yAxis = [
    mkAxis('log', 0, yMin, yMax, 'left', yMaj, 23, TW, yLbl),
    mkAxis('log', 0, yMin, yMax, 'left', yMin_, 12, TW),
    mkAxis('log', 0, yMin, yMax, 'right', yMaj, 23, TW),
    mkAxis('log', 0, yMin, yMax, 'right', yMin_, 12, TW),
    mkAxis('value', 1, rMin, rMax, 'left', cmsRatioLabels, 39, TW, rLbl),
    mkAxis('value', 1, rMin, rMax, 'left', cmsRatioMinor, 20, TW),
    mkAxis('value', 1, rMin, rMax, 'right', cmsRatioLabels, 39, TW),
    mkAxis('value', 1, rMin, rMax, 'right', cmsRatioMinor, 20, TW),
  ];
  const binData = cmsData.map((d, k) => [(ptEdges[k] + ptEdges[k + 1]) / 2, d]);
  const ratioData = cmsData.map((d, k) => [(ptEdges[k] + ptEdges[k + 1]) / 2, 1]);
  const blueSt = (w: number) => ({ stroke: BLUE, lineWidth: P(w), lineDash: [P(14), P(12)] });
  const greenSt = (w: number) => ({ stroke: '#009900', lineWidth: P(w), lineDash: [P(8), P(8), P(3), P(8)] });
  const CYAN = '#2ea6f0';
  const series: any[] = [
    {
      type: 'custom', xAxisIndex: 0, yAxisIndex: 0, z: 1, silent: true, data: binData,
      renderItem: (p: any, api: any) => {
        const k = p.dataIndex, d = cmsData[k];
        const x1 = api.coord([ptEdges[k], d])[0], x2 = api.coord([ptEdges[k + 1], d])[0];
        const Y = (r: number) => api.coord([ptEdges[k], d * r])[1];
        return { type: 'group', children: [rectEl(x1, Y(cmsSysLo[k]), x2, Y(cmsSysHi[k]), { fill: OLIVE }), rectEl(x1, Y(cmsStatLo[k]), x2, Y(cmsStatHi[k]), { fill: STATG })] };
      },
    },
    {
      type: 'custom', xAxisIndex: 0, yAxisIndex: 0, z: 4, silent: true, data: binData,
      renderItem: (p: any, api: any) => {
        const k = p.dataIndex, d = cmsData[k], lo = ptEdges[k], hi = ptEdges[k + 1], w = hi - lo;
        const C = (xv: number, yv: number) => api.coord([xv, yv]);
        const x1 = C(lo, d)[0], x2 = C(hi, d)[0];
        const yG = C(lo, d * cmsMg5[k])[1], yB = C(lo, d * cmsHerwig[k])[1];
        const xr = C(lo + 0.435 * w, d)[0], xc = C(lo + 0.767 * w, d)[0];
        const [xd, yd] = C((lo + hi) / 2, d);
        return {
          type: 'group', children: [
            lineEl(x1, yG, x2, yG, greenSt(6)),
            lineEl(x1, yB, x2, yB, blueSt(6)),
            ...redPlusEls(xr, C(lo, d * cmsPowheg[k])[1], C(lo, d * cmsPowhegLo[k])[1], C(lo, d * cmsPowhegHi[k])[1]),
            diamondEl(xc, C(lo, d * cmsNnlo[k])[1], P(17), P(27), CYAN),
            circleEl(xd, yd, P(10.5), '#000'),
          ],
        };
      },
    },
    {
      type: 'custom', xAxisIndex: 2, yAxisIndex: 4, z: 1, silent: true, data: ratioData,
      renderItem: (p: any, api: any) => {
        const k = p.dataIndex;
        const x1 = api.coord([ptEdges[k], 1])[0], x2 = api.coord([ptEdges[k + 1], 1])[0];
        const Y = (r: number) => api.coord([ptEdges[k], r])[1];
        return { type: 'group', children: [rectEl(x1, Y(cmsSysLo[k]), x2, Y(cmsSysHi[k]), { fill: OLIVE }), rectEl(x1, Y(cmsStatLo[k]), x2, Y(cmsStatHi[k]), { fill: STATG })] };
      },
    },
    { type: 'line', xAxisIndex: 2, yAxisIndex: 4, z: 2, silent: true, symbol: 'none', data: [[xMin, 1], [xMax, 1]], lineStyle: { color: '#000', width: P(2.5) } },
    {
      type: 'custom', xAxisIndex: 2, yAxisIndex: 4, z: 4, silent: true, data: ratioData,
      renderItem: (p: any, api: any) => {
        const k = p.dataIndex, lo = ptEdges[k], hi = ptEdges[k + 1], w = hi - lo;
        const C = (xv: number, yv: number) => api.coord([xv, yv]);
        const x1 = C(lo, 1)[0], x2 = C(hi, 1)[0];
        const yG = C(lo, cmsMg5[k])[1], yB = C(lo, cmsHerwig[k])[1];
        const xr = C(lo + 0.435 * w, 1)[0], xc = C(lo + 0.767 * w, 1)[0];
        return {
          type: 'group', children: [
            lineEl(x1, yG, x2, yG, greenSt(7.5)),
            lineEl(x1, yB, x2, yB, blueSt(8)),
            ...redPlusEls(xr, C(lo, cmsPowheg[k])[1], C(lo, cmsPowhegLo[k])[1], C(lo, cmsPowhegHi[k])[1]),
            diamondEl(xc, C(lo, cmsNnlo[k])[1], P(17), P(27), CYAN),
          ],
        };
      },
    },
  ];
  const rows = [146, 207, 268, 328.5, 389, 449, 509];
  const graphic: any[] = [
    gText(ox, oy, 3585, 78, 'CMS-TOP-17-002', 61, { color: '#666' }),
    gText(ox, oy, 4171, 78, '35.8 fb{sup|-1} (13 TeV)', 60, { color: '#222' }),
    gText(ox, oy, 3351, 166, 'CMS', 60, { bold: true }),
    gText(ox, oy, 3613, 155, 'e/μ+jets', 50),
    gText(ox, oy, 3613, 216, 'parton level', 50),
    gCircle(ox, oy, 3994, rows[0], 10.5, '#000'),
    gRect(ox, oy, 3957, 190, 4033, 234, { fill: OLIVE }),
    gRect(ox, oy, 3957, 250, 4033, 294, { fill: STATG }),
    gLine(ox, oy, 3994, 306, 3994, 351, '#ff0000', 2.5),
    gLine(ox, oy, 3990, 306, 3998, 306, '#ff0000', 2.5),
    gLine(ox, oy, 3990, 351, 3998, 351, '#ff0000', 2.5),
    gLine(ox, oy, 3986, rows[3], 4002, rows[3], '#ff0000', 5),
    gLine(ox, oy, 3994, rows[3] - 9, 3994, rows[3] + 9, '#ff0000', 5),
    gLine(ox, oy, 3994, 367, 3994, 411, CYAN, 2.5),
    gLine(ox, oy, 3990, 367, 3998, 367, CYAN, 2.5),
    gLine(ox, oy, 3990, 411, 3998, 411, CYAN, 2.5),
    { type: 'polygon', z: 51, silent: true, shape: { points: [[3994, 374], [4002.5, 389], [3994, 404], [3985.5, 389]].map(([a, b]) => [P(a - ox), P(b - oy)]) }, style: { fill: CYAN } },
    gLine(ox, oy, 3957, rows[5], 4033, rows[5], BLUE, 7, [14, 10]),
    gLine(ox, oy, 3957, rows[6], 4033, rows[6], '#009900', 7, [7, 8, 3, 8]),
    ...cmsLegend.map((s, k) => gText(ox, oy, 4050, rows[k] + 20, s, 56)),
    cmsYTitle(ox, oy),
    {
      type: 'group', x: P(3073 - ox), y: P(1227 - oy), rotation: Math.PI / 2, z: 50, silent: true,
      children: [
        { type: 'text', x: P(97), y: P(-14 - 0.35 * 62), style: { text: 'Theory', fontFamily: FONT, fontSize: P(62), fill: '#000', align: 'center', verticalAlign: 'middle' } },
        { type: 'line', shape: { x1: 0, y1: 0, x2: P(195), y2: 0 }, style: { stroke: '#000', lineWidth: P(4) } },
        { type: 'text', x: P(97), y: P(54 - 0.35 * 62), style: { text: 'Data', fontFamily: FONT, fontSize: P(62), fill: '#000', align: 'center', verticalAlign: 'middle' } },
      ],
    },
    gText(ox, oy, 4645, 1650, 'p{sub|T}(t{sub|h}) [GeV]', 56, { align: 'right' }),
  ];
  return {
    animation: false, backgroundColor: '#fff',
    grid: [gridBox(3295, 100.8, 4643, 1027.6, ox, oy, 3), gridBox(3295, 1033.7, 4643, 1498.6, ox, oy, 3)],
    xAxis, yAxis, series, graphic,
  };
}

// ================= COMPONENTS =================
function Panel(props: { x: number; y: number; w: number; h: number; z: number; build: () => any }) {
  const ref = useRef<HTMLDivElement>(null);
  useEffect(() => {
    const chart = echarts.init(ref.current as HTMLDivElement, null, { renderer: 'svg' });
    chart.setOption(props.build());
    return () => chart.dispose();
  }, []);
  return (
    <div
      ref={ref}
      style={{ position: 'absolute', left: P(props.x), top: P(props.y), width: P(props.w), height: P(props.h), background: '#fff', zIndex: props.z }}
    />
  );
}

export default function App() {
  return (
    <div style={{ position: 'fixed', left: 0, top: 0, width: 4096, height: 1810, background: '#fff', overflow: 'hidden' }}>
      <Panel x={0} y={0} w={1500} h={2098} z={1} build={buildAtlasLeft} />
      <Panel x={997} y={0} w={1713} h={1723} z={2} build={buildCmsHig} />
      <Panel x={2055} y={345} w={1665} h={1753} z={3} build={buildAtlasMid} />
      <Panel x={2960} y={0} w={1788} h={1705} z={4} build={buildCmsTop} />
    </div>
  );
}
